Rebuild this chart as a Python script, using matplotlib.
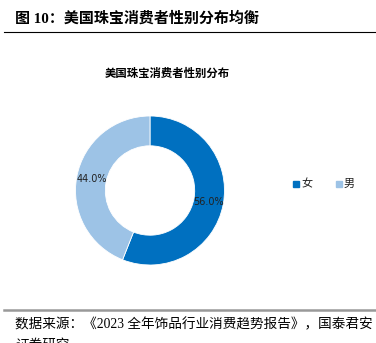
import matplotlib
import numpy as np

matplotlib.use("Agg")
import matplotlib.pyplot as plt
from matplotlib.lines import Line2D

plt.rcParams["font.family"] = ["Liberation Serif", "Noto Sans CJK SC", "DejaVu Sans"]

# gender split of US jewellery consumers
labels = ["女", "男"]
shares = [56.0, 44.0]
colors = ["#0070C0", "#9DC3E6"]

W, H = 376, 343
fig = plt.figure(figsize=(W / 100, H / 100), dpi=100)


def px(x, y):
    return x / W, 1 - y / H


# header
fig.text(*px(15, 18), "图 10：美国珠宝消费者性别分布均衡", fontsize=10.8, fontweight="bold",
         va="center", ha="left")
fig.add_artist(Line2D([4 / W, 1], [1 - 32 / H] * 2, color="black", lw=0.8))

# chart title
fig.text(*px(167, 73), "美国珠宝消费者性别分布", fontsize=8.2, fontweight="bold",
         family=["Noto Sans CJK SC"], va="center", ha="center")

# donut
r = 74.5
cx, cy = 150, 190.5
ax = fig.add_axes([(cx - r) / W, 1 - (cy + r) / H, 2 * r / W, 2 * r / H])
wedges, texts = ax.pie(shares, colors=colors, startangle=90, counterclock=False,
                       labels=["%.1f%%" % s for s in shares], labeldistance=0.8,
                       wedgeprops=dict(width=0.4, edgecolor="white", linewidth=0.6),
                       textprops=dict(fontsize=7, family=["DejaVu Sans"], color="#222222"))
for t in texts:
    t.set_ha("center")
    t.set_va("center")
ax.set_aspect("equal")
ax.set_xlim(-1, 1)
ax.set_ylim(-1, 1)

# legend
for (x, lab), c in zip([(296, labels[0]), (339, labels[1])], colors):
    fig.add_artist(plt.Rectangle(((x - 3) / W, 1 - (184 + 3) / H), 6 / W, 6 / H,
                                 color=c, transform=fig.transFigure))
    fig.text(*px(x + 5, 184), lab, fontsize=8, family=["Noto Sans CJK SC"],
             va="center", ha="left", color="#222222")

# footer
fig.add_artist(Line2D([4 / W, 1], [1 - 310 / H] * 2, color="#999999", lw=1.8))
fig.text(*px(15, 325), "数据来源：《2023 全年饰品行业消费趋势报告》，国泰君安", fontsize=9.8,
         va="center", ha="left")
fig.text(*px(15, 345), "证券研究。", fontsize=9.8, va="center", ha="left")

fig.savefig("out.png", dpi=100)
